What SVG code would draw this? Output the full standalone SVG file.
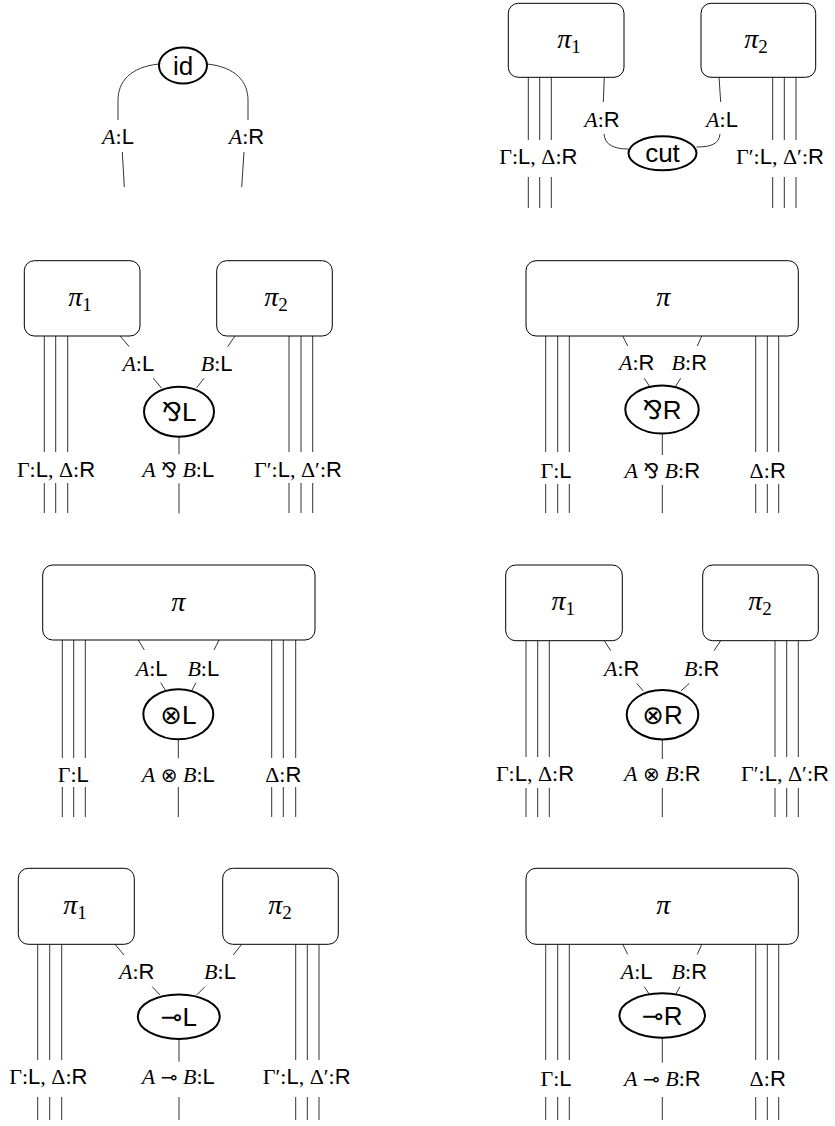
<svg xmlns="http://www.w3.org/2000/svg" width="835" height="1126" viewBox="0 0 835 1126">
<style>
.box{fill:#fff;stroke:#000;stroke-width:1}
.node{fill:#fff;stroke:#000;stroke-width:2}
.w{stroke:#333;stroke-width:1;fill:none}
.lbl{font-family:"Liberation Serif",serif;font-size:22px;text-anchor:middle;fill:#000}
.sf{font-family:"Liberation Sans",sans-serif;font-style:normal}
.it{font-style:italic}
.nl{font-family:"Liberation Sans",sans-serif;font-size:26px;text-anchor:middle;fill:#000}
.sym{font-family:"DejaVu Sans",sans-serif}
.es{font-family:"DejaVu Sans",sans-serif;font-size:20px}
.ns{font-family:"DejaVu Sans",sans-serif;font-size:26px}
.pi{font-family:"Liberation Serif",serif;font-style:italic;font-size:28px;text-anchor:middle;fill:#000}
.sub{font-style:normal;font-size:19px}
</style>
<rect width="835" height="1126" fill="#fff"/>

<g id="connectors">
  <!-- id -->
  <path class="w" d="M159,64 C130,67 118,82 118,100 L118,120"/>
  <path class="w" d="M207,64 C236,67 248,82 248,100 L248,120"/>
  <path class="w" d="M122.3,152 L124.3,187"/>
  <path class="w" d="M244,152 L241.7,187"/>
  <!-- cut -->
  <path class="w" d="M528.3,77 V140 M539.7,77 V140 M551.3,77 V140 M528.3,177 V208 M539.7,177 V208 M551.3,177 V208"/>
  <path class="w" d="M772.7,77 V140 M784.3,77 V140 M796,77 V140 M772.7,177 V208 M784.3,177 V208 M796,177 V208"/>
  <path class="w" d="M604.3,77 L603.3,102"/>
  <path class="w" d="M719,77 L720.7,102"/>
  <path class="w" d="M604,134 C605,145 614,149 628.5,149"/>
  <path class="w" d="M720,134 C719,144 711,147 696.5,147"/>
  <!-- par L -->
  <path class="w" d="M44.3,336 V452 M55.7,336 V452 M67.7,336 V452 M44.3,483 V513 M55.7,483 V513 M67.7,483 V513"/>
  <path class="w" d="M289,336 V452 M301,336 V452 M312.7,336 V452 M289,483 V513 M301,483 V513 M312.7,483 V513"/>
  <path class="w" d="M120,336 L129.3,346.7 M153.3,378.3 L161.7,388.3 M235,336 L227.7,346.7 M204,378.3 L196.7,387.7 M179,436.7 V454.3 M179,483.3 V513.3"/>
  <!-- par R -->
  <path class="w" d="M545.7,336 V452 M557.7,336 V452 M569.3,336 V452 M545.7,484 V513 M557.7,484 V513 M569.3,484 V513"/>
  <path class="w" d="M755.7,336 V452 M767.3,336 V452 M778.7,336 V452 M755.7,484 V513 M767.3,484 V513 M778.7,484 V513"/>
  <path class="w" d="M622.7,336 L627.7,346 M701.7,336 L697.3,346 M644.3,378.3 L649.3,386 M680.7,378.3 L675.7,386 M662.3,433.3 V455 M662.3,485 V513"/>
  <!-- tensor L -->
  <path class="w" d="M62.3,640 V758 M73.7,640 V758 M85.3,640 V758 M62.3,787 V817 M73.7,787 V817 M85.3,787 V817"/>
  <path class="w" d="M271.7,640 V758 M283.3,640 V758 M295.7,640 V758 M271.7,787 V817 M283.3,787 V817 M295.7,787 V817"/>
  <path class="w" d="M138.3,640 L144.3,650 M219,640 L214,650 M160.7,682.7 L165.7,690.7 M196,682.7 L191.7,690.7 M178.3,739.3 V758.3 M178.3,787 V817"/>
  <!-- tensor R -->
  <path class="w" d="M526,640.7 V757 M537.7,640.7 V757 M549.3,640.7 V757 M526,788 V817 M537.7,788 V817 M549.3,788 V817"/>
  <path class="w" d="M775,640.7 V757 M786.7,640.7 V757 M798.3,640.7 V757 M775,788 V817 M786.7,788 V817 M798.3,788 V817"/>
  <path class="w" d="M604.3,640.7 L610.7,650.7 M636.7,683.3 L643.3,691 M720.7,640.7 L714,650.7 M689.3,683.3 L681,691 M662.3,739.3 V759 M662.3,788 V817"/>
  <!-- lolli L -->
  <path class="w" d="M37.7,944.3 V1060 M49.7,944.3 V1060 M61.7,944.3 V1060 M37.7,1097 V1120 M49.7,1097 V1120 M61.7,1097 V1120"/>
  <path class="w" d="M295.7,944.3 V1060 M307.3,944.3 V1060 M319,944.3 V1060 M295.7,1097 V1120 M307.3,1097 V1120 M319,1097 V1120"/>
  <path class="w" d="M115,944.3 L124,955 M152.3,986.7 L160,995 M241.7,944.3 L233.3,955 M205,986.7 L196.7,995 M179,1039 V1061.7 M179,1097 V1120"/>
  <!-- lolli R -->
  <path class="w" d="M545.7,944.3 V1060 M557.7,944.3 V1060 M569.3,944.3 V1060 M545.7,1097 V1120 M557.7,1097 V1120 M569.3,1097 V1120"/>
  <path class="w" d="M755.7,944.3 V1060 M767.3,944.3 V1060 M778.7,944.3 V1060 M755.7,1097 V1120 M767.3,1097 V1120 M778.7,1097 V1120"/>
  <path class="w" d="M622.7,944.3 L627.7,954.3 M701.7,944.3 L697.3,954.3 M644.3,986.7 L649.3,994.3 M680,986.7 L675.7,994.3 M662.3,1037.7 V1062.7 M662.3,1097 V1120"/>
</g>

<g id="edge-labels" class="lbl">
  <!-- id -->
  <text x="118" y="144"><tspan class="it">A</tspan>:<tspan class="sf">L</tspan></text>
  <text x="246.5" y="144"><tspan class="it">A</tspan>:<tspan class="sf">R</tspan></text>
  <!-- cut -->
  <text x="602" y="127"><tspan class="it">A</tspan>:<tspan class="sf">R</tspan></text>
  <text x="722" y="127"><tspan class="it">A</tspan>:<tspan class="sf">L</tspan></text>
  <text x="538.3" y="164">Γ:<tspan class="sf">L</tspan>, Δ:<tspan class="sf">R</tspan></text>
  <text x="780" y="164">Γ′:<tspan class="sf">L</tspan>, Δ′:<tspan class="sf">R</tspan></text>
  <!-- par L -->
  <text x="138.3" y="371"><tspan class="it">A</tspan>:<tspan class="sf">L</tspan></text>
  <text x="216.7" y="371"><tspan class="it">B</tspan>:<tspan class="sf">L</tspan></text>
  <text x="56" y="477">Γ:<tspan class="sf">L</tspan>, Δ:<tspan class="sf">R</tspan></text>
  <text x="178.3" y="477"><tspan class="it">A</tspan> <tspan class="es">⅋</tspan> <tspan class="it">B</tspan>:<tspan class="sf">L</tspan></text>
  <text x="298" y="477">Γ′:<tspan class="sf">L</tspan>, Δ′:<tspan class="sf">R</tspan></text>
  <!-- par R -->
  <text x="636.7" y="370"><tspan class="it">A</tspan>:<tspan class="sf">R</tspan></text>
  <text x="689.3" y="370"><tspan class="it">B</tspan>:<tspan class="sf">R</tspan></text>
  <text x="556" y="478">Γ:<tspan class="sf">L</tspan></text>
  <text x="662.3" y="478"><tspan class="it">A</tspan> <tspan class="es">⅋</tspan> <tspan class="it">B</tspan>:<tspan class="sf">R</tspan></text>
  <text x="767.7" y="478">Δ:<tspan class="sf">R</tspan></text>
  <!-- tensor L -->
  <text x="151.7" y="676"><tspan class="it">A</tspan>:<tspan class="sf">L</tspan></text>
  <text x="203.3" y="676"><tspan class="it">B</tspan>:<tspan class="sf">L</tspan></text>
  <text x="73.3" y="782">Γ:<tspan class="sf">L</tspan></text>
  <text x="178.3" y="782"><tspan class="it">A</tspan> <tspan class="es">⊗</tspan> <tspan class="it">B</tspan>:<tspan class="sf">L</tspan></text>
  <text x="283.3" y="782">Δ:<tspan class="sf">R</tspan></text>
  <!-- tensor R -->
  <text x="621.7" y="676"><tspan class="it">A</tspan>:<tspan class="sf">R</tspan></text>
  <text x="701.7" y="676"><tspan class="it">B</tspan>:<tspan class="sf">R</tspan></text>
  <text x="535" y="781">Γ:<tspan class="sf">L</tspan>, Δ:<tspan class="sf">R</tspan></text>
  <text x="662.3" y="781"><tspan class="it">A</tspan> <tspan class="es">⊗</tspan> <tspan class="it">B</tspan>:<tspan class="sf">R</tspan></text>
  <text x="785" y="781">Γ′:<tspan class="sf">L</tspan>, Δ′:<tspan class="sf">R</tspan></text>
  <!-- lolli L -->
  <text x="136.7" y="979"><tspan class="it">A</tspan>:<tspan class="sf">R</tspan></text>
  <text x="220" y="979"><tspan class="it">B</tspan>:<tspan class="sf">L</tspan></text>
  <text x="48.3" y="1084">Γ:<tspan class="sf">L</tspan>, Δ:<tspan class="sf">R</tspan></text>
  <text x="178.3" y="1084"><tspan class="it">A</tspan> <tspan class="es">⊸</tspan> <tspan class="it">B</tspan>:<tspan class="sf">L</tspan></text>
  <text x="306.7" y="1084">Γ′:<tspan class="sf">L</tspan>, Δ′:<tspan class="sf">R</tspan></text>
  <!-- lolli R -->
  <text x="636.7" y="979"><tspan class="it">A</tspan>:<tspan class="sf">L</tspan></text>
  <text x="689.3" y="979"><tspan class="it">B</tspan>:<tspan class="sf">R</tspan></text>
  <text x="556" y="1086">Γ:<tspan class="sf">L</tspan></text>
  <text x="662.3" y="1086"><tspan class="it">A</tspan> <tspan class="es">⊸</tspan> <tspan class="it">B</tspan>:<tspan class="sf">R</tspan></text>
  <text x="767.7" y="1086">Δ:<tspan class="sf">R</tspan></text>
</g>

<!-- id diagram -->
<g id="node-id"><ellipse class="node" cx="183" cy="65.5" rx="24" ry="18"/><text class="nl" x="183" y="74.5">id</text></g>

<!-- cut diagram -->
<g id="cut-pi1"><rect class="box" x="508.3" y="3.3" width="115.7" height="74" rx="10"/><text class="pi" x="569" y="48">π<tspan class="sub" dy="5">1</tspan></text></g>
<g id="cut-pi2"><rect class="box" x="701" y="3.3" width="114.7" height="74" rx="10"/><text class="pi" x="756" y="48">π<tspan class="sub" dy="5">2</tspan></text></g>
<g id="node-cut"><ellipse class="node" cx="662.5" cy="153.3" rx="34" ry="17"/><text class="nl" x="662.5" y="161.5">cut</text></g>

<!-- par L -->
<g id="parL-pi1"><rect class="box" x="24.3" y="260.7" width="115.7" height="75.3" rx="10"/><text class="pi" x="80" y="306">π<tspan class="sub" dy="5">1</tspan></text></g>
<g id="parL-pi2"><rect class="box" x="216.7" y="260.7" width="115.6" height="75.3" rx="10"/><text class="pi" x="276" y="306">π<tspan class="sub" dy="5">2</tspan></text></g>
<g id="node-parL"><ellipse class="node" cx="179" cy="411.7" rx="35" ry="25"/><text class="nl" x="179" y="421"><tspan class="ns">⅋</tspan>L</text></g>

<!-- par R -->
<g id="parR-pi"><rect class="box" x="526" y="260.7" width="272.3" height="75.3" rx="10"/><text class="pi" x="663.3" y="306">π</text></g>
<g id="node-parR"><ellipse class="node" cx="662" cy="409.5" rx="36.7" ry="24"/><text class="nl" x="662" y="419"><tspan class="ns">⅋</tspan>R</text></g>

<!-- tensor L -->
<g id="tensL-pi"><rect class="box" x="42.7" y="565" width="272.3" height="75" rx="10"/><text class="pi" x="178.3" y="611">π</text></g>
<g id="node-tensL"><ellipse class="node" cx="178.3" cy="714.3" rx="35" ry="25"/><text class="nl" x="178.3" y="723.5"><tspan class="ns">⊗</tspan>L</text></g>

<!-- tensor R -->
<g id="tensR-pi1"><rect class="box" x="505.7" y="565" width="116.6" height="75.7" rx="10"/><text class="pi" x="563.3" y="610">π<tspan class="sub" dy="5">1</tspan></text></g>
<g id="tensR-pi2"><rect class="box" x="702.7" y="565" width="115.6" height="75.7" rx="10"/><text class="pi" x="760" y="610">π<tspan class="sub" dy="5">2</tspan></text></g>
<g id="node-tensR"><ellipse class="node" cx="662.5" cy="714.7" rx="35.8" ry="24.7"/><text class="nl" x="662.5" y="724"><tspan class="ns">⊗</tspan>R</text></g>

<!-- lolli L -->
<g id="lolL-pi1"><rect class="box" x="18.3" y="868.3" width="116" height="76" rx="10"/><text class="pi" x="75" y="914">π<tspan class="sub" dy="5">1</tspan></text></g>
<g id="lolL-pi2"><rect class="box" x="222.7" y="868.3" width="115.6" height="76" rx="10"/><text class="pi" x="280" y="914">π<tspan class="sub" dy="5">2</tspan></text></g>
<g id="node-lolL"><ellipse class="node" cx="178.8" cy="1016.7" rx="41" ry="22.3"/><text class="nl" x="178.8" y="1026"><tspan class="ns">⊸</tspan>L</text></g>

<!-- lolli R -->
<g id="lolR-pi"><rect class="box" x="526" y="868.3" width="272.3" height="76" rx="10"/><text class="pi" x="663.3" y="914">π</text></g>
<g id="node-lolR"><ellipse class="node" cx="662.2" cy="1015.5" rx="42.8" ry="22.2"/><text class="nl" x="662.2" y="1025"><tspan class="ns">⊸</tspan>R</text></g>
</svg>
